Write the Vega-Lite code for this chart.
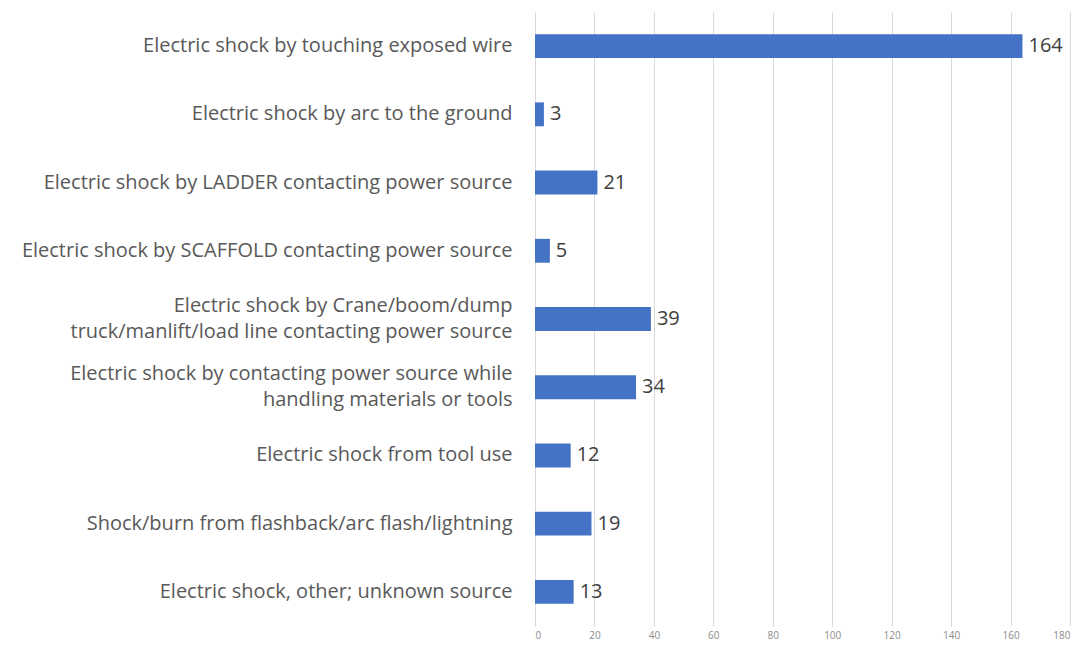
{
  "$schema": "https://vega.github.io/schema/vega-lite/v6.json",
  "width": 535,
  "height": 614,
  "autosize": "none",
  "padding": {"left": 535, "top": 12, "right": 7, "bottom": 23},
  "background": "white",
  "config": {"view": {"stroke": null}, "font": "Open Sans"},
  "data": {"values": [
    {"cause": "Electric shock by touching exposed wire", "count": 164},
    {"cause": "Electric shock by arc to the ground", "count": 3},
    {"cause": "Electric shock by LADDER contacting power source", "count": 21},
    {"cause": "Electric shock by SCAFFOLD contacting power source", "count": 5},
    {"cause": "Electric shock by Crane/boom/dump|truck/manlift/load line contacting power source", "count": 39},
    {"cause": "Electric shock by contacting power source while|handling materials or tools", "count": 34},
    {"cause": "Electric shock from tool use", "count": 12},
    {"cause": "Shock/burn from flashback/arc flash/lightning", "count": 19},
    {"cause": "Electric shock, other; unknown source", "count": 13}
  ]},
  "encoding": {
    "y": {
      "field": "cause", "type": "nominal", "sort": null,
      "scale": {"paddingInner": 0.65, "paddingOuter": 0.325},
      "axis": {
        "title": null, "domain": false, "ticks": false,
        "labelExpr": "split(datum.label, '|')",
        "labelFontSize": 20, "labelColor": "#595959", "labelPadding": 23,
        "labelLineHeight": 25.5, "labelLimit": 600,
        "labelOffset": {"expr": "indexof(datum.value, '|') >= 0 ? -12.75 : 0"}
      }
    },
    "x": {
      "field": "count", "type": "quantitative",
      "scale": {"domain": [0, 180], "nice": false},
      "axis": {
        "title": null, "domain": false, "ticks": false, "values": [0,20,40,60,80,100,120,140,160,180],
        "labelFontSize": 10, "labelColor": "#8c8c8c", "labelPadding": 4,
        "gridColor": "#d9d9d9", "gridWidth": 1
      }
    }
  },
  "layer": [
    {"mark": {"type": "bar", "color": "#4472C4"}},
    {"mark": {"type": "text", "align": "left", "dx": 6, "fontSize": 20, "color": "#404040"},
     "encoding": {"text": {"field": "count"}}}
  ]
}
